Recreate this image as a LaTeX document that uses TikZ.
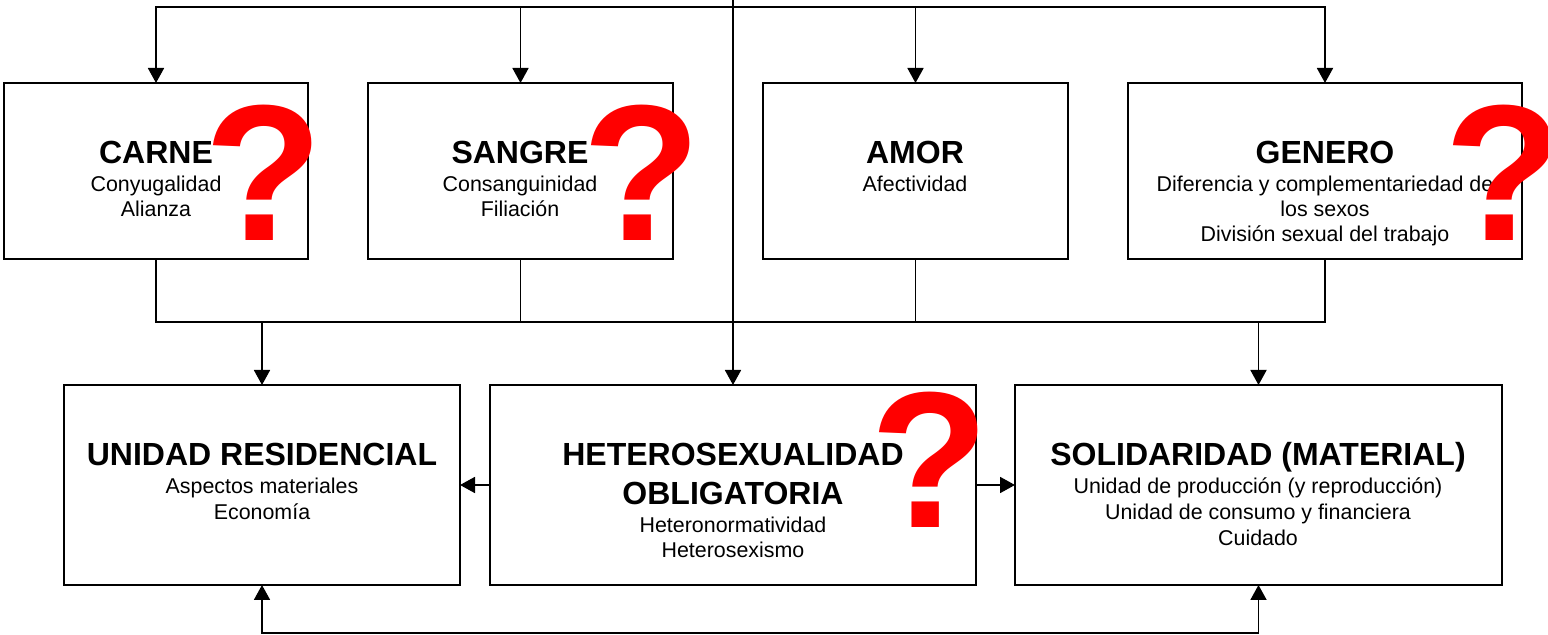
\documentclass[tikz,border=0pt]{standalone}
\usepackage{fontspec}
\setmainfont{Liberation Sans}
\usetikzlibrary{arrows.meta}
\usetikzlibrary{positioning}
\definecolor{mark-red}{HTML}{FF0000}
\tikzset{box/.style = {draw, line width=.9pt, inner sep=0pt, outer sep=0pt, anchor=north west}}
\tikzset{arr/.style = {line width=.9pt, -{Triangle[length=7.5pt, width=8pt]}}}
\tikzset{wire/.style = {line width=.9pt}}
\tikzset{qmark/.style = {text=mark-red, font=\fontsize{97}{97}\selectfont\bfseries, inner sep=0pt}}
\tikzset{heading/.style = {font=\fontsize{16}{20}\selectfont\bfseries, align=center, inner sep=0pt, anchor=base}}
\tikzset{detail/.style = {font=\fontsize{10.7}{12.5}\selectfont, align=center, inner sep=0pt}}
\tikzset{detail-wide/.style = {font=\fontsize{10.7}{13}\selectfont, align=center, inner sep=0pt}}

\begin{document}
\begin{tikzpicture}[x=.5pt, y=-.5pt]
\useasboundingbox (0,0) rectangle (1548,635);

\node[box, minimum width=152pt, minimum height=88pt] (carne) at (4,83) {};
\node[box, minimum width=152.5pt, minimum height=88pt] (sangre) at (368,83) {};
\node[box, minimum width=152.5pt, minimum height=88pt] (amor) at (763,83) {};
\node[box, minimum width=197pt, minimum height=88pt] (genero) at (1128,83) {};
\node[box, minimum width=198pt, minimum height=100pt] (unidad) at (64,385) {};
\node[box, minimum width=243pt, minimum height=100pt] (hetero) at (490,385) {};
\node[box, minimum width=243.5pt, minimum height=100pt] (solidaridad) at (1015,385) {};

% texts sit on the boxes
\node[heading] (carne-h) at (156,164) {CARNE};
\node[detail, below=5.7pt of carne-h.base] (carne-d) {Conyugalidad\\Alianza};
\node[heading] (sangre-h) at (520,164) {SANGRE};
\node[detail, below=5.7pt of sangre-h.base] (sangre-d) {Consanguinidad\\Filiación};
\node[heading] (amor-h) at (915,164) {AMOR};
\node[detail, below=5.7pt of amor-h.base] (amor-d) {Afectividad};
\node[heading] (genero-h) at (1325,164) {GENERO};
\node[detail, below=5.7pt of genero-h.base] (genero-d) {Diferencia y complementariedad de\\los sexos\\División sexual del trabajo};
\node[heading] (unidad-h) at (262,466) {UNIDAD RESIDENCIAL};
\node[detail-wide, below=5.7pt of unidad-h.base] (unidad-d) {Aspectos materiales\\Economía};
\node[heading] (hetero-h) at (733,466) {HETEROSEXUALIDAD};
\node[heading] (hetero-i) at (733,505) {OBLIGATORIA};
\node[detail, below=5.7pt of hetero-i.base] (hetero-d) {Heteronormatividad\\Heterosexismo};
\node[heading] (solidaridad-h) at (1258,466) {SOLIDARIDAD (MATERIAL)};
\node[detail-wide, below=5.7pt of solidaridad-h.base] (solidaridad-d) {Unidad de producción (y reproducción)\\Unidad de consumo y financiera\\Cuidado};

\node[qmark] (m1) at (264,173) {?};
\node[qmark] (m2) at (642,173) {?};
\node[qmark] (m3) at (1504,173) {?};
\node[qmark] (m4) at (930,460) {?};

\coordinate (origin) at (733,0);
\coordinate (top) at (733,7);
\coordinate (low) at (733,322);
\coordinate (under) at (760,633);
\coordinate (side) at (733,485);

\draw[wire] (carne.south) |- (low);
\draw[wire] (sangre.south) |- (low);
\draw[wire] (amor.south) |- (low);
\draw[wire] (genero.south) |- (low);
\draw[arr] (origin) -- (hetero.north);
\draw[arr] (top) -| (carne.north);
\draw[arr] (top) -| (sangre.north);
\draw[arr] (top) -| (amor.north);
\draw[arr] (top) -| (genero.north);
\draw[arr] (low -| unidad.north) -- (unidad.north);
\draw[arr] (low -| solidaridad.north) -- (solidaridad.north);
\draw[arr] (side -| hetero.west) -- (side -| unidad.east);
\draw[arr] (side -| hetero.east) -- (side -| solidaridad.west);
\draw[arr] (under) -| (unidad.south);
\draw[arr] (under) -| (solidaridad.south);

\end{tikzpicture}
\end{document}
